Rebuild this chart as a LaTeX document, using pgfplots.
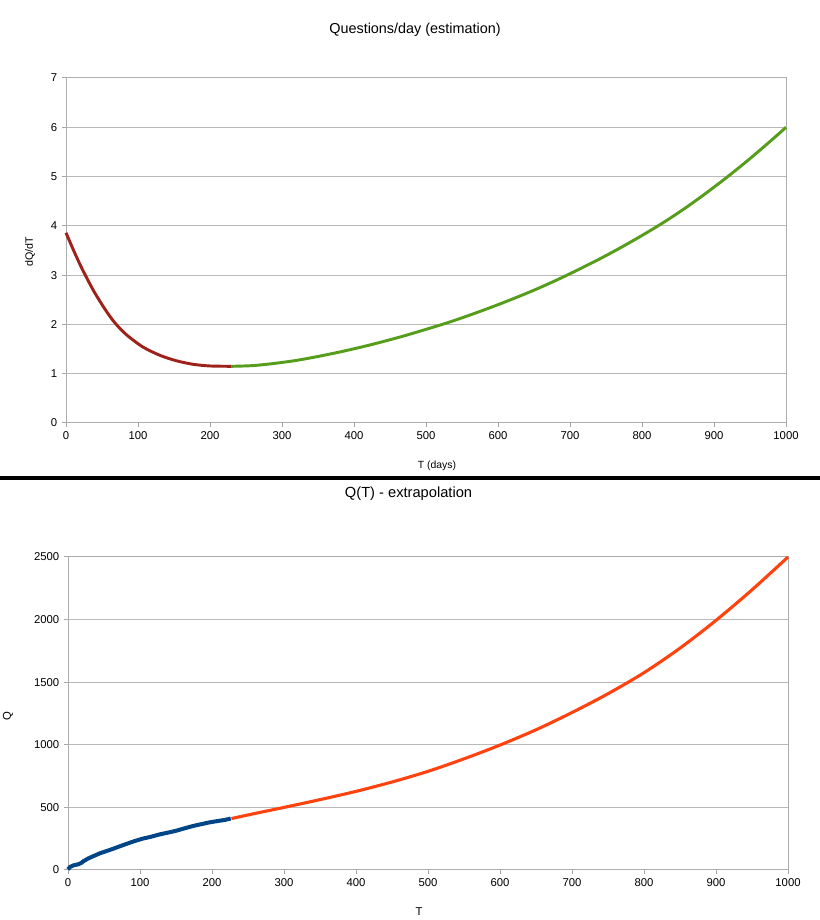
\documentclass[border=0pt]{standalone}
\usepackage{fontspec}
\setmainfont{Liberation Sans}
\usepackage{pgfplots}
\pgfplotsset{compat=1.18}

\definecolor{dkred}{RGB}{158,34,26}
\definecolor{lgreen}{RGB}{87,157,28}
\definecolor{lblue}{RGB}{0,69,134}
\definecolor{lorange}{RGB}{255,66,14}

\pgfplotsset{
  lochart/.style={
    scale only axis, anchor=south west, width=540pt,
    xmin=0, xmax=1000, xtick={0,100,...,1000},
    axis line style={draw=black!32, line width=0.75pt},
    ymajorgrids, grid style={draw=black!28, line width=0.75pt},
    tick style={draw=black!35, line width=0.75pt},
    tick align=outside, major tick length=3pt,
    xtick pos=bottom, ytick pos=left,
    tick label style={font=\fontsize{8.5}{10}\selectfont},
    /pgf/number format/assume math mode=true,
    /pgf/number format/1000 sep={},
    clip=false,
  }
}

\begin{document}
\begin{tikzpicture}
\useasboundingbox[fill=white] (0,0) rectangle (615pt,690pt);

% upper chart
\begin{axis}[lochart, at={(49.5pt,372.75pt)}, height=258.75pt,
    ymin=0, ymax=7, ytick={0,...,7}]
\addplot[dkred, line width=2.2pt, smooth, tension=0.5] coordinates {
(0,3.86) (10,3.52) (20,3.20) (30,2.91) (40,2.64) (55,2.29) (68,2.03)
(84,1.79) (107,1.54) (131,1.37) (154,1.26) (177,1.19) (200,1.157) (230,1.15)};
\addplot[lgreen, line width=2.2pt, smooth, tension=0.5] coordinates {
(230,1.15) (260,1.165) (290,1.21) (320,1.27) (350,1.35) (380,1.44) (410,1.54)
(440,1.65) (470,1.77) (500,1.90) (530,2.035) (560,2.185) (590,2.345) (620,2.515)
(650,2.695) (680,2.89) (710,3.10) (740,3.32) (770,3.555) (800,3.805) (830,4.07)
(860,4.36) (890,4.675) (920,5.01) (950,5.365) (980,5.74) (1000,6.0)};
\end{axis}

% lower chart
\begin{axis}[lochart, at={(51pt,37.5pt)}, height=234.75pt,
    ymin=0, ymax=2500, ytick={0,500,...,2500}]
\addplot[lorange, line width=2.3pt, smooth, tension=0.5] coordinates {
(227,411) (260,452) (300,500) (350,562) (400,628) (450,703) (500,788)
(550,888) (600,998) (650,1120) (700,1258) (750,1408) (800,1576) (850,1772)
(900,1994) (950,2238) (1000,2500)};
\addplot[lblue, line width=3pt] coordinates {
(0,5) (3,25) (8,38) (14,45) (18,55) (22,72) (28,92) (35,110) (45,135)
(58,160) (70,185) (81,208) (92,230) (104,251) (115,265) (127,284) (140,300)
(150,313) (162,333) (174,352) (185,366) (197,381) (210,393) (218,400) (226,411)};
\end{axis}

% texts
\node[font=\fontsize{10.8}{12}\selectfont] at (311.25pt,668pt) {Questions/day (estimation)};
\node[font=\fontsize{11}{12}\selectfont] at (306.4pt,319.5pt) {Q(T) - extrapolation};
\node[font=\fontsize{7.8}{9}\selectfont] at (327.75pt,340.5pt) {T (days)};
\node[font=\fontsize{8.5}{10}\selectfont] at (314.25pt,6pt) {T};
\node[font=\fontsize{8}{9}\selectfont, rotate=90] at (22.5pt,501pt) {dQ/dT};
\node[font=\fontsize{8.5}{10}\selectfont, rotate=90] at (6pt,153pt) {Q};

% separator
\fill[black] (0,330pt) rectangle (615pt,333pt);
\end{tikzpicture}
\end{document}
